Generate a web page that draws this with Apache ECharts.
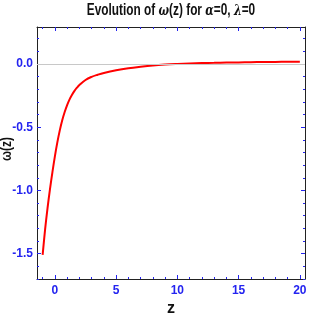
<!DOCTYPE html>
<html><head><meta charset="utf-8">
<script src="https://cdn.jsdelivr.net/npm/echarts@6/dist/echarts.min.js"></script>
<style>html,body{margin:0;padding:0;background:#fff}#c{width:319px;height:319px}</style>
</head><body><div id="c"></div>
<script>
const zValues = [-1.0,-0.8,-0.6,-0.4,-0.2,0.0,0.2,0.4,0.6,0.8,1.0,1.2,1.4,1.6,1.8,2.0,2.5,3.0,3.5,4.0,5.0,6.0,7.0,8.0,9.0,10,11,12,13,14,15,16,17,18,19,20];
const omegaValues = [-1.51,-1.31,-1.14,-0.99,-0.855,-0.73,-0.62,-0.525,-0.445,-0.38,-0.325,-0.28,-0.243,-0.213,-0.188,-0.167,-0.127,-0.102,-0.085,-0.071,-0.050,-0.034,-0.022,-0.012,-0.005,0.0,0.004,0.007,0.009,0.011,0.012,0.014,0.015,0.016,0.017,0.018];
const xMajorTicks = [0,5,10,15,20];
const xMinorTicks = [-1,0,1,2,3,4,5,6,7,8,9,10,11,12,13,14,15,16,17,18,19,20];
const yMajorTicks = [-1.5,-1.0,-0.5,0.0];
const yMinorTicks = [-1.7,-1.6,-1.5,-1.4,-1.3,-1.2,-1.1,-1.0,-0.9,-0.8,-0.7,-0.6,-0.5,-0.4,-0.3,-0.2,-0.1,0.0,0.1,0.2];

const FONT = '"Liberation Sans",Arial,sans-serif';
const BLUE = '#2424f0';
const X_MIN = -1.46, X_MAX = 20.42, Y_MIN = -1.7, Y_MAX = 0.292;

function xAx(pos, ticks, len, showLabels, showLine) {
  return {
    type: 'value', min: X_MIN, max: X_MAX, position: pos,
    splitLine: {show: false},
    axisLine: {show: showLine, onZero: false, lineStyle: {color: '#222', width: 1}},
    axisTick: {show: true, inside: true, length: len, customValues: ticks, lineStyle: {color: BLUE, width: 1}},
    axisLabel: {show: showLabels, customValues: xMajorTicks, margin: 6, color: BLUE, fontFamily: FONT, fontWeight: 'bold', fontSize: 12, formatter: v => String(Math.round(v))}
  };
}
function yAx(pos, ticks, len, showLabels, showLine) {
  return {
    type: 'value', min: Y_MIN, max: Y_MAX, position: pos,
    splitLine: {show: false},
    axisLine: {show: showLine, onZero: false, lineStyle: {color: '#222', width: 1}},
    axisTick: {show: true, inside: true, length: len, customValues: ticks, lineStyle: {color: BLUE, width: 1}},
    axisLabel: {show: showLabels, customValues: yMajorTicks, margin: 4, color: BLUE, fontFamily: FONT, fontWeight: 'bold', fontSize: 12, formatter: v => v.toFixed(1)}
  };
}

const chart = echarts.init(document.getElementById('c'), null, {renderer: 'canvas'});
chart.setOption({
  animation: false,
  grid: {left: 37, right: 14, top: 27, bottom: 40, containLabel: false},
  xAxis: [
    xAx('bottom', xMajorTicks, 4, true, true),
    xAx('bottom', xMinorTicks, 2, false, false),
    xAx('top', xMajorTicks, 4, false, true),
    xAx('top', xMinorTicks, 2, false, false)
  ],
  yAxis: [
    yAx('left', yMajorTicks, 4, true, true),
    yAx('left', yMinorTicks, 2, false, false),
    yAx('right', yMajorTicks, 4, false, true),
    yAx('right', yMinorTicks, 2, false, false)
  ],
  graphic: [
    {type: 'text', x: 171, y: 11, scaleX: 0.74, style: {
      text: '{n|Evolution of }{i|ω}{n|(z) for }{i|α}{n|=0, }{i|λ}{n|=0}',
      align: 'center', verticalAlign: 'middle',
      rich: {
        n: {fontFamily: FONT, fontWeight: 'bold', fontSize: 16, fill: '#111'},
        i: {fontFamily: '"DejaVu Serif",serif', fontStyle: 'italic', fontWeight: 'bold', fontSize: 15, fill: '#111'}
      }
    }},
    {type: 'text', x: 171, y: 309, style: {text: 'z', align: 'center', verticalAlign: 'middle', fontFamily: FONT, fontWeight: 'bold', fontSize: 16, fill: '#111'}},
    {type: 'text', x: 7, y: 149, rotation: Math.PI / 2, scaleX: 0.85, style: {text: 'ω(z)', align: 'center', verticalAlign: 'middle', fontFamily: FONT, fontWeight: 'bold', fontSize: 14, fill: '#111'}}
  ],
  series: [{
    type: 'line', xAxisIndex: 0, yAxisIndex: 0,
    data: zValues.map((z, i) => [z, omegaValues[i]]),
    smooth: 0.4, showSymbol: false, symbol: 'none',
    lineStyle: {color: '#ff0000', width: 2},
    markLine: {silent: true, symbol: 'none', label: {show: false},
      lineStyle: {color: '#c8c8c8', width: 1, type: 'solid'},
      data: [{yAxis: 0}]}
  }]
});
</script></body></html>
